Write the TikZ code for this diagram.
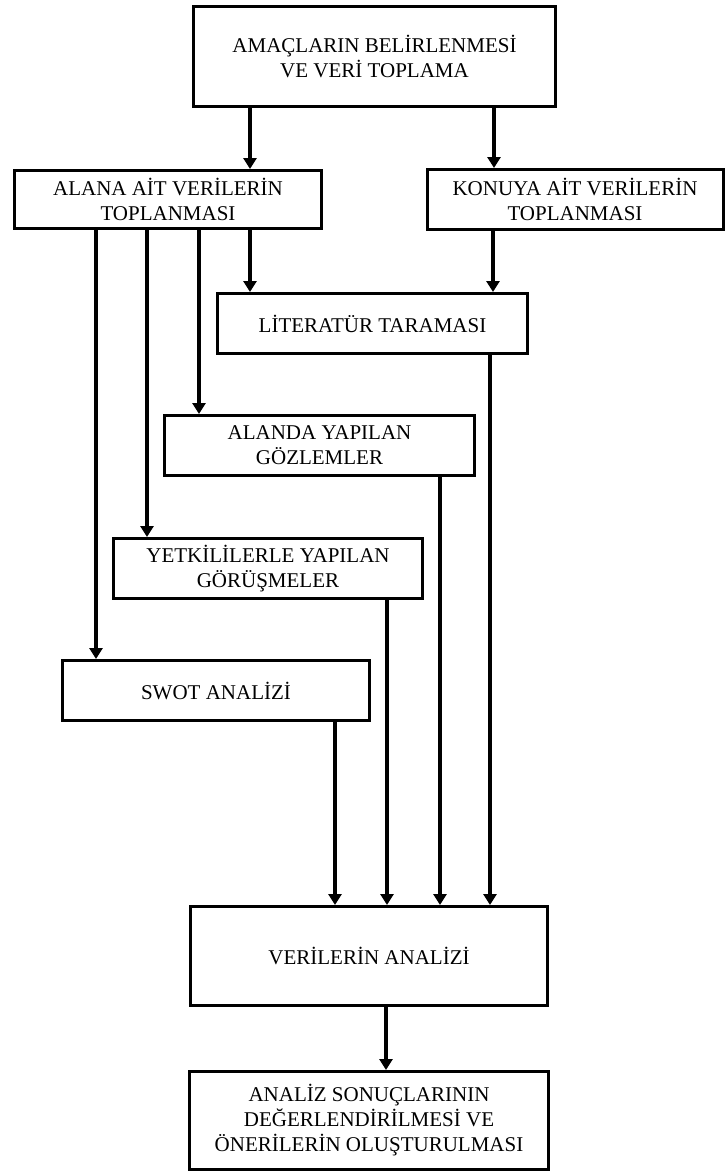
\documentclass[tikz,border=0pt]{standalone}
\usepackage{fontspec}
\setmainfont{Liberation Serif}
\usetikzlibrary{arrows.meta,positioning}

\begin{document}
\begin{tikzpicture}[x=1pt, y=-1pt,
  kutu/.style={draw, line width=3pt, align=center, inner sep=0pt,
    font=\fontsize{21}{25}\selectfont},
  ok/.style={line width=3.2pt, -{Triangle[width=13pt,length=11pt]}}]
\useasboundingbox (0,0) rectangle (728,1173);
% kutular
\node[kutu, minimum width=362pt, minimum height=100pt] (amac) at (374.5,56.5) {AMAÇLARIN BELİRLENMESİ\\VE VERİ TOPLAMA};
\node[kutu, minimum width=307pt, minimum height=58pt] (alana) at (168,199.5) {ALANA AİT VERİLERİN\\TOPLANMASI};
\node[kutu, minimum width=296pt, minimum height=60pt] (konuya) at (575,199.5) {KONUYA AİT VERİLERİN\\TOPLANMASI};
\node[kutu, minimum width=310pt, minimum height=60pt] (literatur) at (372.5,323.5) {LİTERATÜR TARAMASI};
\node[kutu, minimum width=310pt, minimum height=60pt] (gozlem) at (319.5,445.5) {ALANDA YAPILAN\\GÖZLEMLER};
\node[kutu, minimum width=309pt, minimum height=60pt] (gorusme) at (268,568.5) {YETKİLİLERLE YAPILAN\\GÖRÜŞMELER};
\node[kutu, minimum width=307pt, minimum height=60pt] (swot) at (216,690.5) {SWOT ANALİZİ};
\node[kutu, minimum width=357pt, minimum height=99pt] (analiz) at (369,956) {VERİLERİN ANALİZİ};
\node[kutu, minimum width=359pt, minimum height=98pt] (sonuc) at (369,1120.5) {ANALİZ SONUÇLARININ\\DEĞERLENDİRİLMESİ VE\\ÖNERİLERİN OLUŞTURULMASI};
% oklar
\draw[ok] (amac.south -| 250,0) -- (alana.north -| 250,0);
\draw[ok] (amac.south -| 494,0) -- (konuya.north -| 494,0);
\draw[ok] (konuya.south -| 493,0) -- (literatur.north -| 493,0);
\foreach \n/\x in {literatur/250, gozlem/199, gorusme/147, swot/96}
  \draw[ok] (alana.south -| \x,0) -- (\n.north -| \x,0);
\foreach \n/\x in {swot/335, gorusme/387, gozlem/440, literatur/490}
  \draw[ok] (\n.south -| \x,0) -- (analiz.north -| \x,0);
\draw[ok] (analiz.south -| 386,0) -- (sonuc.north -| 386,0);
\end{tikzpicture}
\end{document}
